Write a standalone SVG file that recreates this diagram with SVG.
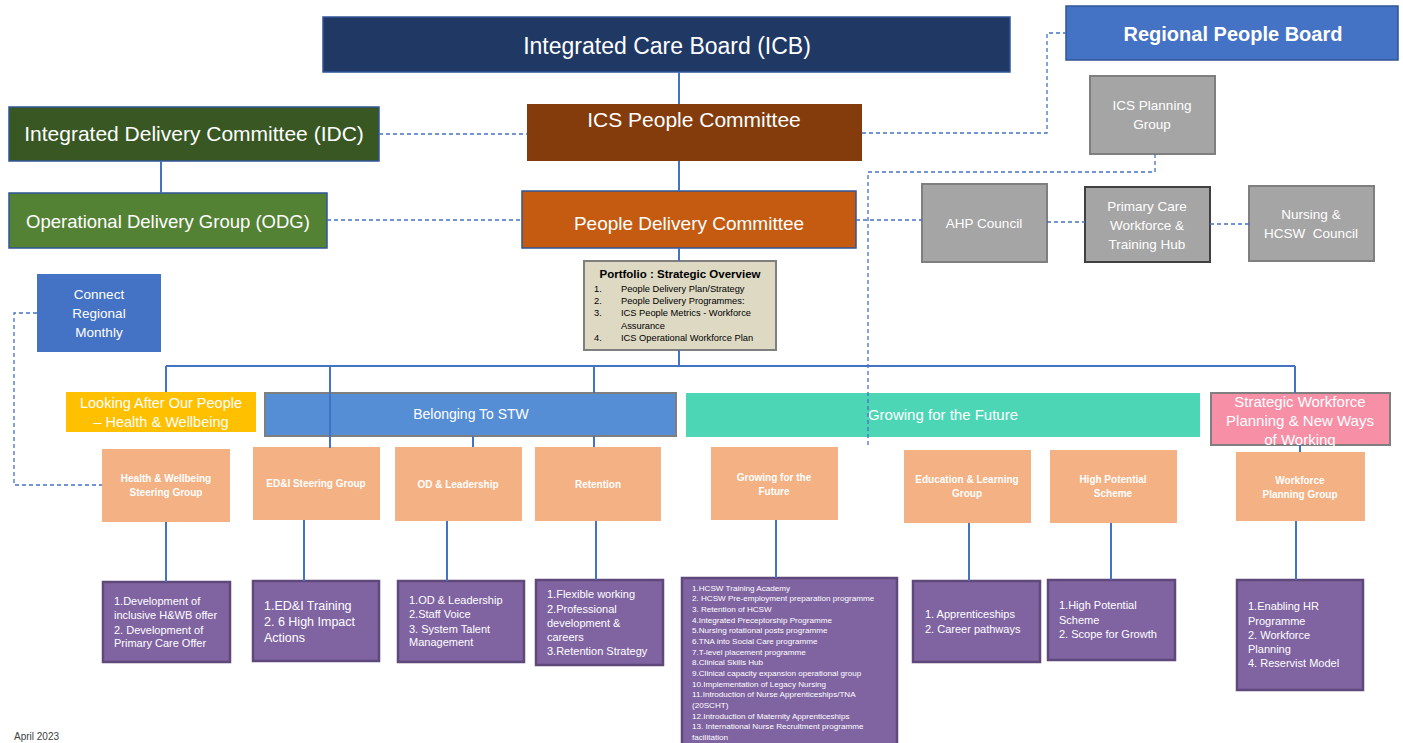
<svg xmlns="http://www.w3.org/2000/svg" width="1403" height="743" viewBox="0 0 1403 743">
<defs>
<style>
text{font-family:"Liberation Sans",Arial,sans-serif;fill:#fff}
.c{text-anchor:middle}
.ln{stroke:#4472C4;stroke-width:2;fill:none}
.dash{stroke:#4472C4;stroke-width:1.3;stroke-dasharray:4 3;fill:none}
.gray rect{fill:#A5A5A5;stroke:#7F7F7F;stroke-width:2}
.gray text{font-size:13.5px;text-anchor:middle}
.org rect{fill:#F4B183}
.org text{font-size:10px;font-weight:bold;text-anchor:middle}
.pur rect{fill:#8064A2;stroke:#5F497A;stroke-width:2.5}
.pur text{font-size:11px}
.pf text{fill:#000;font-size:9.3px}
.gl text{font-size:8.1px}
</style>
</defs>
<rect x="0" y="0" width="1403" height="743" fill="#fff"/>

<g id="icb"><rect x="323" y="17" width="687" height="55" fill="#203864" stroke="#2F5597" stroke-width="1.5"/><text class="c" x="667" y="54" font-size="23">Integrated Care Board (ICB)</text></g>
<g id="rpb"><rect x="1066" y="6" width="332" height="54" fill="#4472C4" stroke="#2F5597" stroke-width="1.5"/><text class="c" x="1233" y="41" font-size="20" font-weight="bold">Regional People Board</text></g>
<g id="idc"><rect x="9" y="107" width="370" height="54" fill="#385723" stroke="#2F5597" stroke-width="1.5"/><text class="c" x="194" y="141" font-size="21">Integrated Delivery Committee (IDC)</text></g>
<g id="icspc"><rect x="527" y="104" width="335" height="57" fill="#843C0C"/><text class="c" x="694" y="127" font-size="21">ICS People Committee</text></g>
<g id="odg"><rect x="9" y="193" width="318" height="55" fill="#548235" stroke="#2F5597" stroke-width="1.5"/><text class="c" x="168" y="228" font-size="18.5">Operational Delivery Group (ODG)</text></g>
<g id="pdc"><rect x="522" y="191" width="334" height="57" fill="#C55A11" stroke="#2F5597" stroke-width="1.5"/><text class="c" x="689" y="230" font-size="19">People Delivery Committee</text></g>

<g id="icsplan" class="gray"><rect x="1090" y="76" width="125" height="78"/><text x="1152" y="110">ICS Planning</text><text x="1152" y="129">Group</text></g>
<g id="ahp" class="gray"><rect x="922" y="184" width="125" height="78"/><text x="984" y="228">AHP Council</text></g>
<g id="pcwth" class="gray"><rect x="1085" y="187" width="125" height="75" style="stroke:#404040"/><text x="1147" y="211">Primary Care</text><text x="1147" y="230">Workforce &amp;</text><text x="1147" y="249">Training Hub</text></g>
<g id="nursing" class="gray"><rect x="1249" y="186" width="125" height="75"/><text x="1311" y="219">Nursing &amp;</text><text x="1311" y="238" style="white-space:pre">HCSW  Council</text></g>

<g id="connect"><rect x="37" y="274" width="124" height="78" fill="#4472C4"/><text class="c" x="99" y="299" font-size="13.5">Connect</text><text class="c" x="99" y="318" font-size="13.5">Regional</text><text class="c" x="99" y="337" font-size="13.5">Monthly</text></g>

<g id="portfolio" class="pf"><rect x="584" y="261" width="192" height="89" fill="#DDD9C3" stroke="#7F7F7F" stroke-width="2"/>
<text x="680" y="278" text-anchor="middle" font-weight="bold" style="font-size:11.5px">Portfolio : Strategic Overview</text>
<text x="594" y="292">1.</text><text x="621" y="292">People Delivery Plan/Strategy</text>
<text x="594" y="304">2.</text><text x="621" y="304">People Delivery Programmes:</text>
<text x="594" y="316">3.</text><text x="621" y="316">ICS People Metrics - Workforce</text>
<text x="621" y="329">Assurance</text>
<text x="594" y="341">4.</text><text x="621" y="341">ICS Operational Workforce Plan</text>
</g>

<g id="looking"><rect x="66" y="392" width="190" height="40" fill="#FFC000"/><text class="c" x="161" y="408" font-size="14.5">Looking After Our People</text><text class="c" x="161" y="427" font-size="14.5">– Health &amp; Wellbeing</text></g>
<g id="belonging"><rect x="265" y="393" width="411" height="43" fill="#558ED5" stroke="#7F7F7F" stroke-width="2"/><text class="c" x="471" y="419" font-size="14">Belonging To STW</text></g>
<g id="growingbar"><rect x="686" y="393" width="514" height="44" fill="#4CD6B6"/><text class="c" x="943" y="420" font-size="15">Growing for the Future</text></g>
<g id="strategic"><rect x="1211" y="393" width="179" height="52" fill="#F78FA7" stroke="#7F7F7F" stroke-width="2"/><text class="c" x="1300" y="407" font-size="15">Strategic Workforce</text><text class="c" x="1300" y="426" font-size="15">Planning &amp; New Ways</text><text class="c" x="1300" y="445" font-size="15">of Working</text></g>

<g id="o-hwb" class="org"><rect x="102" y="449" width="128" height="73"/><text x="166" y="481.5">Health &amp; Wellbeing</text><text x="166" y="495.5">Steering Group</text></g>
<g id="o-edi" class="org"><rect x="253" y="447" width="127" height="73"/><text x="316" y="486.5">ED&amp;I Steering Group</text></g>
<g id="o-od" class="org"><rect x="395" y="447" width="127" height="74"/><text x="458" y="487.5">OD &amp; Leadership</text></g>
<g id="o-ret" class="org"><rect x="535" y="447" width="126" height="74"/><text x="598" y="487.5">Retention</text></g>
<g id="o-grow" class="org"><rect x="711" y="447" width="127" height="73"/><text x="774" y="480.5">Growing for the</text><text x="774" y="494.5">Future</text></g>
<g id="o-edu" class="org"><rect x="904" y="450" width="127" height="73"/><text x="967" y="482.5">Education &amp; Learning</text><text x="967" y="496.5">Group</text></g>
<g id="o-hps" class="org"><rect x="1050" y="450" width="127" height="73"/><text x="1113" y="482.5">High Potential</text><text x="1113" y="496.5">Scheme</text></g>
<g id="o-wpg" class="org"><rect x="1236" y="452" width="129" height="69"/><text x="1300" y="483.5">Workforce</text><text x="1300" y="497.5">Planning Group</text></g>

<g id="p-hwb" class="pur"><rect x="103" y="582" width="127" height="80"/><text x="114" y="605">1.Development of</text><text x="114" y="619">inclusive H&amp;WB offer</text><text x="114" y="634">2. Development of</text><text x="114" y="647">Primary Care Offer</text></g>
<g id="p-edi" class="pur"><rect x="253" y="581" width="126" height="80"/><text x="264" y="610" style="font-size:12.5px">1.ED&amp;I Training</text><text x="264" y="626" style="font-size:12.5px">2. 6 High Impact</text><text x="264" y="642" style="font-size:12.5px">Actions</text></g>
<g id="p-od" class="pur"><rect x="398" y="581" width="126" height="81"/><text x="409" y="604">1.OD &amp; Leadership</text><text x="409" y="618">2.Staff Voice</text><text x="409" y="633">3. System Talent</text><text x="409" y="646">Management</text></g>
<g id="p-ret" class="pur"><rect x="536" y="580" width="127" height="85"/><text x="547" y="598">1.Flexible working</text><text x="547" y="613">2.Professional</text><text x="547" y="627">development &amp;</text><text x="547" y="641">careers</text><text x="547" y="655">3.Retention Strategy</text></g>
<g id="p-grow" class="pur"><rect x="682" y="578" width="215" height="175"/>
<g class="gl">
<text x="692" y="590.5" style="font-size:8.1px">1.HCSW Training Academy</text>
<text x="692" y="601.2" style="font-size:8.1px">2. HCSW Pre-employment preparation programme</text>
<text x="692" y="611.8" style="font-size:8.1px">3. Retention of HCSW</text>
<text x="692" y="622.5" style="font-size:8.1px">4.Integrated Preceptorship Programme</text>
<text x="692" y="633.2" style="font-size:8.1px">5.Nursing rotational posts programme</text>
<text x="692" y="643.8" style="font-size:8.1px">6.TNA into Social Care programme</text>
<text x="692" y="654.5" style="font-size:8.1px">7.T-level placement programme</text>
<text x="692" y="665.2" style="font-size:8.1px">8.Clinical Skills Hub</text>
<text x="692" y="675.8" style="font-size:8.1px">9.Clinical capacity expansion operational group</text>
<text x="692" y="686.5" style="font-size:8.1px">10.Implementation of Legacy Nursing</text>
<text x="692" y="697.2" style="font-size:8.1px">11.Introduction of Nurse Apprenticeships/TNA</text>
<text x="692" y="707.8" style="font-size:8.1px">(20SCHT)</text>
<text x="692" y="718.5" style="font-size:8.1px">12.Introduction of Maternity Apprenticeships</text>
<text x="692" y="729.2" style="font-size:8.1px">13. International Nurse Recruitment programme</text>
<text x="692" y="739.8" style="font-size:8.1px">facilitation</text>
</g></g>
<g id="p-edu" class="pur"><rect x="913" y="581" width="127" height="81"/><text x="925" y="618">1. Apprenticeships</text><text x="925" y="633">2. Career pathways</text></g>
<g id="p-hps" class="pur"><rect x="1048" y="580" width="127" height="80"/><text x="1059" y="609">1.High Potential</text><text x="1059" y="624">Scheme</text><text x="1059" y="638">2. Scope for Growth</text></g>
<g id="p-wpg" class="pur"><rect x="1237" y="580" width="126" height="110"/><text x="1248" y="610">1.Enabling HR</text><text x="1248" y="625">Programme</text><text x="1248" y="639">2. Workforce</text><text x="1248" y="653">Planning</text><text x="1248" y="667">4. Reservist Model</text></g>

<g id="connectors">
<path class="ln" d="M679 72V104M679 161V191M161 161V193M679 248V261M679 350V366M166 366H1295M166 366V392M330 366V448M594 366V393M594 436V447M473 436V447M1295 366V393M1300 445V452M166 522V582M304 520V581M447 521V581M596 521V580M776 520V578M969 523V581M1111 523V580M1296 521V580"/>
<path class="dash" d="M379 134H527M327 220H522M862 133H1047V33H1066M1155 154V172H868V445M856 220H922M1047 222H1085M1210 224H1249M37 313H14V485H102"/>
</g>

<text x="14" y="740" font-size="10" style="fill:#404040">April 2023</text>
</svg>
